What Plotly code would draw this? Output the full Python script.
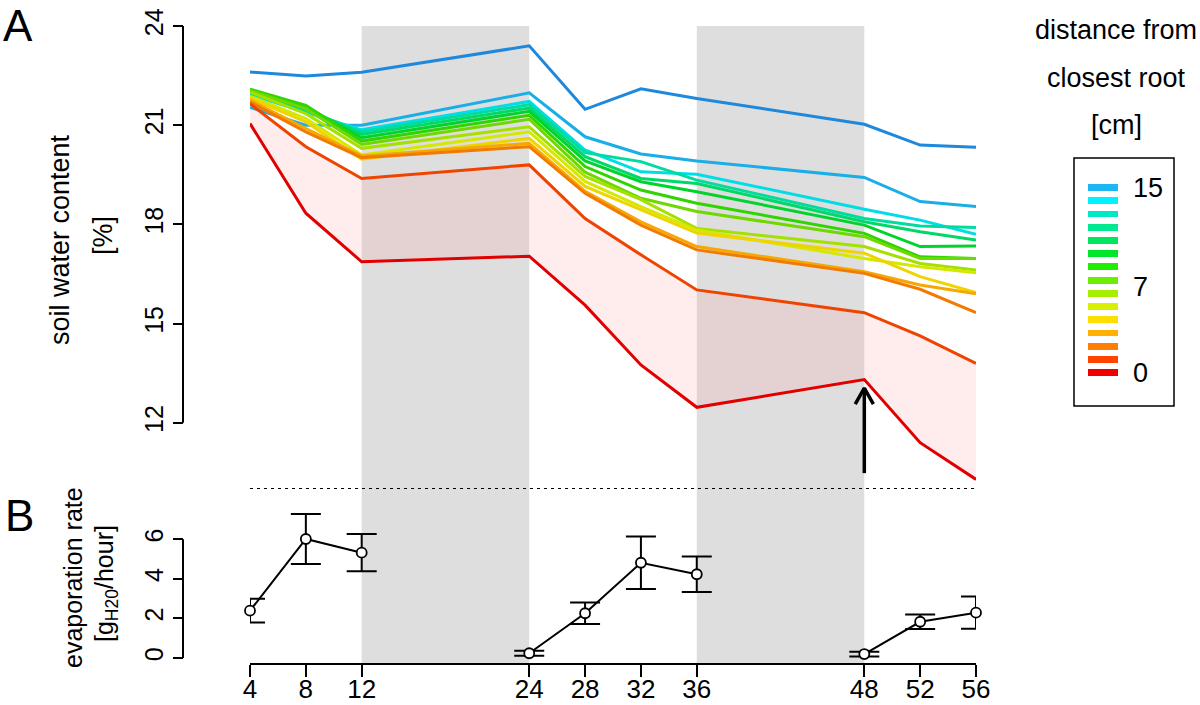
import plotly.graph_objects as go

# ---------------- data ----------------
hours = [4, 8, 12, 24, 28, 32, 36, 48, 52, 56]
tick_hours = [4, 8, 12, 24, 28, 32, 36, 48, 52, 56]

# soil water content [%] per distance class (0 = closest to root ... 14 = farthest)
swc_d00 = [21.05, 18.34, 16.87, 17.04, 15.56, 13.75, 12.47, 13.31, 11.40, 10.29]
swc_d01 = [21.65, 20.35, 19.39, 19.80, 18.18, 17.08, 16.02, 15.33, 14.63, 13.80]
swc_d02 = [21.70, 20.80, 20.02, 20.35, 18.94, 17.98, 17.23, 16.52, 16.04, 15.33]
swc_d03 = [21.76, 20.90, 20.07, 20.45, 19.00, 18.08, 17.33, 16.57, 16.17, 15.90]
swc_d04 = [21.82, 21.10, 19.97, 20.60, 19.15, 18.45, 17.74, 17.13, 16.42, 15.94]
swc_d05 = [21.88, 21.20, 20.10, 20.80, 19.30, 18.54, 17.83, 16.97, 16.72, 16.54]
swc_d06 = [22.00, 21.35, 20.30, 20.95, 19.45, 18.75, 17.88, 17.33, 16.82, 16.62]
swc_d07 = [22.05, 21.50, 20.42, 21.18, 19.58, 18.79, 18.39, 17.63, 16.97, 16.97]
swc_d08 = [22.09, 21.60, 20.52, 21.30, 19.75, 19.04, 18.64, 17.73, 17.02, 16.97]
swc_d09 = [22.07, 21.55, 20.62, 21.42, 19.92, 19.29, 18.99, 17.98, 17.33, 17.35]
swc_d10 = [22.02, 21.50, 20.72, 21.52, 20.05, 19.39, 19.24, 18.08, 17.78, 17.53]
swc_d11 = [21.97, 21.45, 20.80, 21.62, 20.17, 19.90, 19.34, 18.18, 17.95, 17.91]
swc_d12 = [21.92, 21.40, 20.86, 21.72, 20.25, 19.59, 19.52, 18.46, 18.13, 17.70]
swc_d13 = [21.54, 21.00, 21.00, 21.98, 20.65, 20.13, 19.92, 19.42, 18.69, 18.54]
swc_d14 = [22.61, 22.49, 22.60, 23.40, 21.48, 22.10, 21.81, 21.03, 20.40, 20.33]

line_colors = ['#E00000', '#EE4400', '#F27A00', '#F5A800', '#EED400', '#D4E800',
               '#A6E000', '#6ED800', '#30D400', '#00D42C', '#00D868', '#00DCA0',
               '#00DDE6', '#1AAEE6', '#1E88DC']

# evaporation rate [g H2O / hour]
evap_mean = [2.39, 6.01, 5.32, 0.24, 2.26, 4.81, 4.23, 0.20, 1.83, 2.29]
evap_err = [0.60, 1.26, 0.94, 0.13, 0.54, 1.32, 0.90, 0.12, 0.37, 0.81]
evap_group = [0, 0, 0, 1, 1, 1, 1, 2, 2, 2]

# dark periods (hours)
night_start = [12, 36]
night_end = [24, 48]

# arrow marking the rewetting of the closest soil (hour, from, to)
arrow_x = 48
arrow_from = 10.48
arrow_to = 13.05

# legend (distance from closest root, cm)
legend_colors = ['#F20000', '#FF4400', '#FF7F00', '#FFB000', '#FFDD00', '#D8F000',
                 '#A4EE00', '#6CEE00', '#20EE00', '#00E62A', '#00E65E', '#00E890',
                 '#00E8C8', '#00F2FF', '#1EB6F2']
legend_ticks = [0, 7, 15]

top_ticks = [12, 15, 18, 21, 24]
bottom_ticks = [0, 2, 4, 6]

# ---------------- layout helpers ----------------
W, H = 1200, 705
def px(x):
    return x / W
def py(y):
    return 1 - y / H

FONT = "Liberation Sans, Arial, sans-serif"
series = [swc_d00, swc_d01, swc_d02, swc_d03, swc_d04, swc_d05, swc_d06, swc_d07,
          swc_d08, swc_d09, swc_d10, swc_d11, swc_d12, swc_d13, swc_d14]

fig = go.Figure()

# pink band between the two closest classes
fig.add_trace(go.Scatter(
    x=hours + hours[::-1], y=swc_d01 + swc_d00[::-1],
    xaxis='x', yaxis='y', fill='toself', mode='lines',
    fillcolor='rgba(255,160,160,0.20)', line=dict(width=0),
    hoverinfo='skip', showlegend=False))

for i in range(len(series) - 1, -1, -1):
    fig.add_trace(go.Scatter(
        x=hours, y=series[i], xaxis='x', yaxis='y', mode='lines',
        line=dict(color=line_colors[i], width=3),
        cliponaxis=False, showlegend=False))

# arrow (shaft + chevron head)
head_dx = 0.65
head_dy = 0.48
fig.add_trace(go.Scatter(
    x=[arrow_x, arrow_x, None, arrow_x - head_dx, arrow_x, arrow_x + head_dx],
    y=[arrow_from, arrow_to, None, arrow_to - head_dy, arrow_to, arrow_to - head_dy],
    xaxis='x', yaxis='y', mode='lines',
    line=dict(color='black', width=3.5), cliponaxis=False,
    hoverinfo='skip', showlegend=False))

# evaporation rate
ex, ey = [], []
for k in range(len(hours)):
    if k > 0 and evap_group[k] != evap_group[k - 1]:
        ex.append(None); ey.append(None)
    ex.append(hours[k]); ey.append(evap_mean[k])

fig.add_trace(go.Scatter(
    x=ex, y=ey, xaxis='x', yaxis='y2', mode='lines',
    line=dict(color='black', width=2), cliponaxis=False, showlegend=False))
fig.add_trace(go.Scatter(
    x=hours, y=evap_mean, xaxis='x', yaxis='y2', mode='markers',
    marker=dict(symbol='circle', size=10, color='white',
                line=dict(color='black', width=1.8)),
    error_y=dict(type='data', array=evap_err, visible=True, color='black',
                 thickness=2, width=15),
    cliponaxis=False, showlegend=False))

# legend bars
scale = 15 / 14
fig.add_trace(go.Bar(
    x=[1] * len(legend_colors), y=[i * scale for i in range(len(legend_colors))],
    orientation='h', marker=dict(color=legend_colors, line=dict(width=0)),
    width=0.56, xaxis='x3', yaxis='y3', showlegend=False, hoverinfo='skip'))

shapes = []
for s, e in zip(night_start, night_end):
    shapes.append(dict(type='rect', xref='x', yref='paper', x0=s, x1=e,
                       y0=py(663), y1=py(26), fillcolor='#DEDEDE',
                       line=dict(width=0), layer='below'))
# axis lines (R style: only across the tick range)
shapes.append(dict(type='line', xref='paper', yref='y', x0=px(183), x1=px(183),
                   y0=min(top_ticks), y1=max(top_ticks),
                   line=dict(color='black', width=2)))
shapes.append(dict(type='line', xref='paper', yref='y2', x0=px(183), x1=px(183),
                   y0=min(bottom_ticks), y1=max(bottom_ticks),
                   line=dict(color='black', width=2)))
# dotted separator
shapes.append(dict(type='line', xref='x', yref='y', x0=min(hours), x1=max(hours),
                   y0=10, y1=10, line=dict(color='black', width=2, dash='3px,4px')))
# legend frame
shapes.append(dict(type='rect', xref='paper', yref='paper', x0=px(1074), x1=px(1174),
                   y0=py(406), y1=py(158), line=dict(color='black', width=1.5)))

tf = dict(size=25, family=FONT, color='black')
xf = dict(size=26, family=FONT, color='black')
lf = dict(size=27, family=FONT, color='black')
big = dict(size=44, family=FONT, color='black')

def label(text, x, y, font, angle=0):
    return dict(text=text, x=px(x), y=py(y), xref='paper', yref='paper',
                xanchor='center', yanchor='middle', showarrow=False,
                textangle=angle, font=font)

annotations = [
    label('A', 18, 25, big),
    label('B', 19, 515, big),
    label('soil water content', 60, 240, lf, -90),
    label('[%]', 103, 236, lf, -90),
    label('evaporation rate', 73, 578, tf, -90),
    label('[g<sub>H20</sub>/hour]', 106, 584, tf, -90),
    label('distance from', 1116, 30, lf),
    label('closest root', 1116, 78, lf),
    label('[cm]', 1116, 125, lf),
]

fig.update_layout(
    template='none',
    width=W, height=H, margin=dict(l=0, r=0, t=0, b=0, pad=0),
    paper_bgcolor='white', plot_bgcolor='rgba(0,0,0,0)',
    font=dict(family=FONT, color='black'),
    showlegend=False, bargap=0,
    xaxis=dict(domain=[px(250), px(976)], range=[4, 56], anchor='y2',
               tickvals=tick_hours, ticktext=[str(t) for t in tick_hours],
               showline=True, linecolor='black', linewidth=2,
               ticks='outside', ticklen=12, tickwidth=2, tickcolor='black',
               ticklabelstandoff=-10,
               showgrid=False, zeroline=False, tickfont=xf, automargin=False),
    yaxis=dict(domain=[py(489), py(26)], range=[10, 24], anchor='free',
               position=px(183), tickvals=top_ticks, tickangle=-90,
               ticks='outside', ticklen=10, tickwidth=2, tickcolor='black',
               showline=False, showgrid=False, zeroline=False, tickfont=tf,
               automargin=False),
    yaxis2=dict(domain=[py(663), py(489)], range=[-0.2525, 8.535], anchor='free',
                position=px(183), tickvals=bottom_ticks, tickangle=-90,
                ticks='outside', ticklen=10, tickwidth=2, tickcolor='black',
                showline=False, showgrid=False, zeroline=False, tickfont=tf,
                automargin=False),
    xaxis3=dict(domain=[px(1088), px(1118)], range=[0, 1], anchor='y3',
                visible=False, fixedrange=True, automargin=False),
    yaxis3=dict(domain=[py(379.6), py(181.4)], range=[-0.5 * scale, 14.5 * scale],
                anchor='x3', side='right', tickvals=legend_ticks,
                ticktext=[str(t) for t in legend_ticks], ticks='',
                showline=False, showgrid=False, zeroline=False,
                ticklabelstandoff=14, tickfont=lf, automargin=False),
    shapes=shapes, annotations=annotations,
)

fig.write_html("out.html", post_script="document.body.style.margin='0';",
               config={'displayModeBar': False})
